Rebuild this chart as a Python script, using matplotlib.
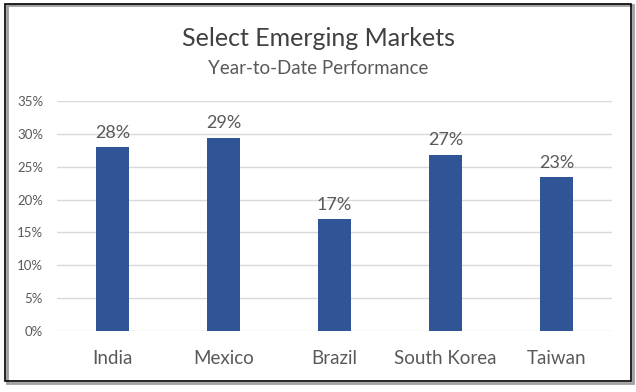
import matplotlib.pyplot as plt
from matplotlib.patches import Rectangle
from matplotlib.ticker import PercentFormatter

markets = ["India", "Mexico", "Brazil", "South Korea", "Taiwan"]
ytd = [28.0, 29.4, 17.0, 26.8, 23.4]

plt.rcParams['font.family'] = ['Lato', 'DejaVu Sans']
grey = "#595959"

fig = plt.figure(figsize=(6.36, 3.92), dpi=100)
ax = fig.add_axes([0.0896, 0.1556, 0.8724, 0.5864])

x = range(len(markets))
bars = ax.bar(x, ytd, width=0.3, color="#2F5597", zorder=3)
for b, v in zip(bars, ytd):
    ax.text(b.get_x() + b.get_width() / 2, v + 1.0, f"{round(v)}%",
            ha="center", va="bottom", fontsize=13, color=grey)

ax.set_xlim(-0.5, len(markets) - 0.5)
ax.set_ylim(0, 35)
ax.set_yticks(range(0, 36, 5))
ax.yaxis.set_major_formatter(PercentFormatter(decimals=0))
ax.set_xticks(list(x))
ax.set_xticklabels(markets, fontsize=13.5, color=grey)
ax.tick_params(axis="y", labelsize=9.5, colors=grey, length=0, pad=10)
ax.tick_params(axis="x", length=0, pad=14)
ax.grid(axis="y", color="#D9D9D9", linewidth=1, zorder=0)
for s in ax.spines.values():
    s.set_visible(False)

fig.text(0.5, 0.902, "Select Emerging Markets", ha="center", va="center",
         fontsize=18, color="#404040")
fig.text(0.5, 0.826, "Year-to-Date Performance", ha="center", va="center",
         fontsize=13.5, color=grey)

# frame with a slight shadow
fig.patches.append(Rectangle((0.011, 0.024), 0.984, 0.964, transform=fig.transFigure,
                             fill=False, edgecolor="#A0A0A0", linewidth=2))
fig.patches.append(Rectangle((0.008, 0.029), 0.984, 0.96, transform=fig.transFigure,
                             fill=False, edgecolor="black", linewidth=1.2))

fig.savefig("out.png", dpi=100)
